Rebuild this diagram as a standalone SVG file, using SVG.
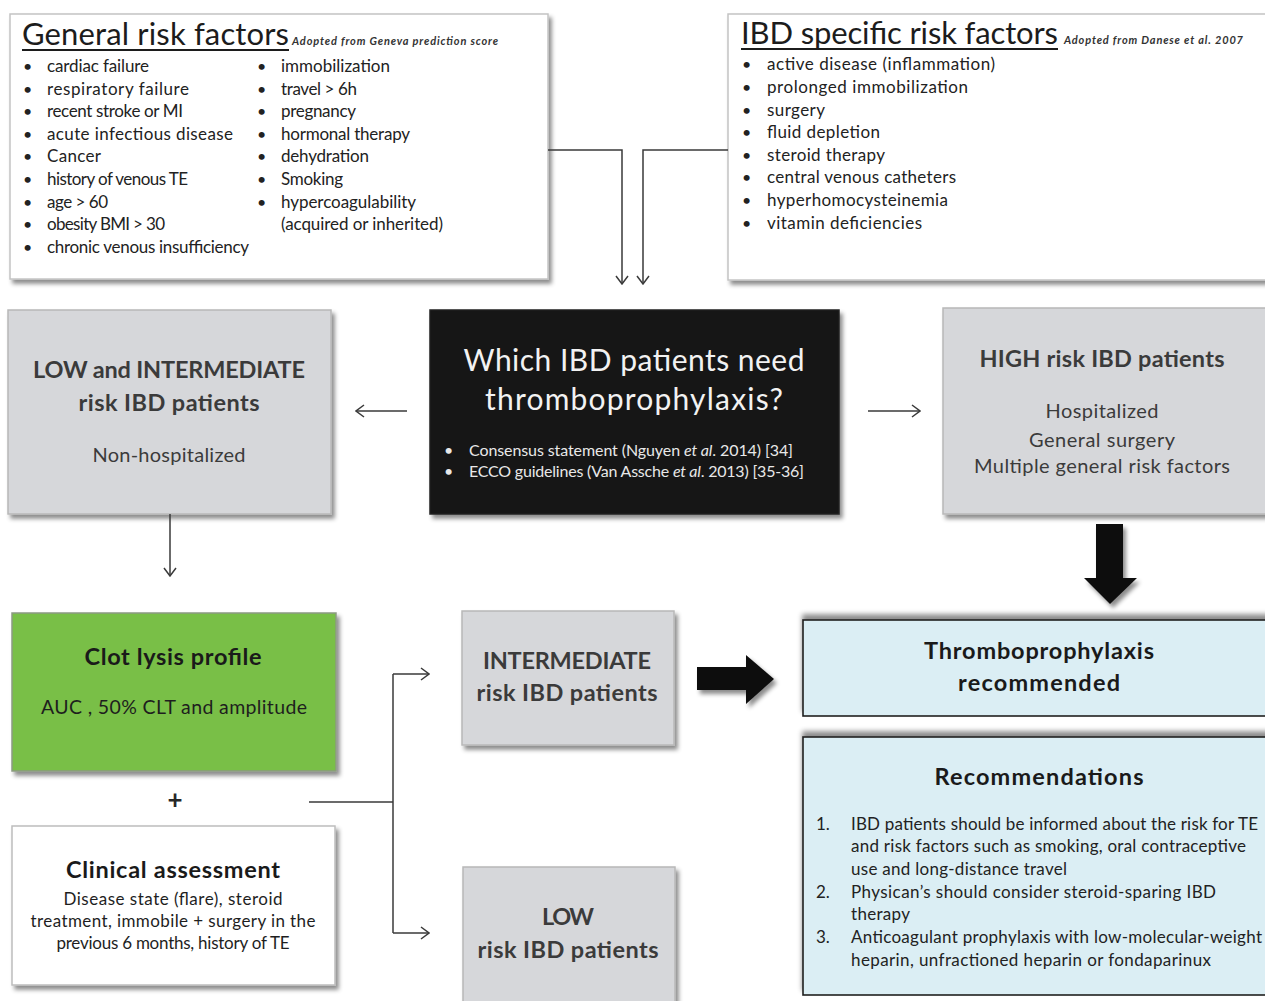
<svg xmlns="http://www.w3.org/2000/svg" width="1265" height="1001" viewBox="0 0 1265 1001">
  <defs>
    <filter id="shadow" x="-10%" y="-10%" width="130%" height="130%">
      <feDropShadow dx="3" dy="4" stdDeviation="2.2" flood-color="#000" flood-opacity="0.45"/>
    </filter>
    <filter id="shadowUp" x="-10%" y="-20%" width="130%" height="140%">
      <feDropShadow dx="0" dy="-5" stdDeviation="2.5" flood-color="#000" flood-opacity="0.45"/>
    </filter>
    <marker id="vhead" viewBox="0 0 10 14" markerWidth="10" markerHeight="14" refX="9" refY="7" orient="auto" markerUnits="userSpaceOnUse">
      <path d="M1,1 L9,7 L1,13" fill="none" stroke="#3a3a3a" stroke-width="1.5"/>
    </marker>
  </defs>
  <style>
    text { font-family: Lato, "Liberation Sans", sans-serif; }
    .box { stroke: #c4c4c4; stroke-width: 1.5; filter: url(#shadow); }
    .white { fill: #ffffff; }
    .gray { fill: #d6d7da; stroke: #b8b8b8; }
    .green { fill: #79bf46; stroke: #8c9a82; }
    .blue { fill: #dbeef4; stroke: #1e1e1e; stroke-width: 1.6; filter: url(#shadowUp); }
    .dark { fill: #151515; stroke: #222; }
    .title { font-size: 31px; fill: #1c1c1c; }
    .note { font-size: 11px; font-style: italic; font-weight: bold; fill: #333; }
    .li { font-size: 17px; fill: #222; }
    .bul { font-size: 16px; fill: #222; }
    .hb { font-size: 23.5px; font-weight: bold; fill: #3b3b3b; text-anchor: middle; }
    .hr { font-size: 20px; fill: #3b3b3b; text-anchor: middle; }
    .kb { font-size: 23.5px; font-weight: bold; fill: #1a1a1a; text-anchor: middle; }
    .kr { font-size: 19.5px; fill: #1e1e1e; text-anchor: middle; }
    .cr { font-size: 17px; fill: #1e1e1e; text-anchor: middle; }
    .rec { font-size: 17px; fill: #222; }
    .inv { font-size: 16px; fill: #e8e8e8; }
    .conn { fill: none; stroke: #3a3a3a; stroke-width: 1.5; }
    .big { fill: #111; filter: url(#shadow); }
  </style>

  <!-- General risk factors -->
  <g id="general-risk-factors">
    <rect class="box white" x="10" y="14" width="538" height="265"/>
    <text class="title" x="22" y="45" textLength="267">General risk factors</text>
    <rect x="22" y="49" width="267" height="2" fill="#1c1c1c"/>
    <text class="note" x="292" y="45" textLength="206">Adopted from Geneva prediction score</text>
    <g class="bul">
      <text x="23" y="72">•</text><text x="23" y="95">•</text><text x="23" y="117">•</text>
      <text x="23" y="140">•</text><text x="23" y="162">•</text><text x="23" y="185">•</text>
      <text x="23" y="208">•</text><text x="23" y="230">•</text><text x="23" y="253">•</text>
      <text x="257" y="72">•</text><text x="257" y="95">•</text><text x="257" y="117">•</text>
      <text x="257" y="140">•</text><text x="257" y="162">•</text><text x="257" y="185">•</text>
      <text x="257" y="208">•</text>
    </g>
    <text class="li" x="47" y="72" textLength="102">cardiac failure</text>
    <text class="li" x="47" y="95" textLength="142">respiratory failure</text>
    <text class="li" x="47" y="117" textLength="136">recent stroke or MI</text>
    <text class="li" x="47" y="140" textLength="186">acute infectious disease</text>
    <text class="li" x="47" y="162" textLength="54">Cancer</text>
    <text class="li" x="47" y="185" textLength="141">history of venous TE</text>
    <text class="li" x="47" y="208" textLength="61">age &gt; 60</text>
    <text class="li" x="47" y="230" textLength="118">obesity BMI &gt; 30</text>
    <text class="li" x="47" y="253" textLength="202">chronic venous insufficiency</text>
    <text class="li" x="281" y="72" textLength="109">immobilization</text>
    <text class="li" x="281" y="95" textLength="76">travel &gt; 6h</text>
    <text class="li" x="281" y="117" textLength="75">pregnancy</text>
    <text class="li" x="281" y="140" textLength="129">hormonal therapy</text>
    <text class="li" x="281" y="162" textLength="88">dehydration</text>
    <text class="li" x="281" y="185" textLength="62">Smoking</text>
    <text class="li" x="281" y="208" textLength="135">hypercoagulability</text>
    <text class="li" x="281" y="230" textLength="162">(acquired or inherited)</text>
  </g>

  <!-- IBD specific risk factors -->
  <g id="ibd-risk-factors">
    <rect class="box white" x="728" y="14" width="545" height="266"/>
    <text class="title" x="741" y="44" textLength="317">IBD specific risk factors</text>
    <rect x="741" y="48" width="317" height="2" fill="#1c1c1c"/>
    <text class="note" x="1064" y="44" textLength="179">Adopted from Danese et al. 2007</text>
    <g class="bul">
      <text x="742" y="70">•</text><text x="742" y="93">•</text><text x="742" y="116">•</text>
      <text x="742" y="138">•</text><text x="742" y="161">•</text><text x="742" y="183">•</text>
      <text x="742" y="206">•</text><text x="742" y="229">•</text>
    </g>
    <text class="li" x="767" y="70" textLength="228">active disease (inflammation)</text>
    <text class="li" x="767" y="93" textLength="201">prolonged immobilization</text>
    <text class="li" x="767" y="116" textLength="58">surgery</text>
    <text class="li" x="767" y="138" textLength="113">fluid depletion</text>
    <text class="li" x="767" y="161" textLength="118">steroid therapy</text>
    <text class="li" x="767" y="183" textLength="189">central venous catheters</text>
    <text class="li" x="767" y="206" textLength="181">hyperhomocysteinemia</text>
    <text class="li" x="767" y="229" textLength="155">vitamin deficiencies</text>
  </g>

  <!-- Central question -->
  <g id="question">
    <rect class="box dark" x="430" y="310" width="409" height="204"/>
    <text x="634" y="371" font-size="30" fill="#f2f2f2" text-anchor="middle" textLength="341">Which IBD patients need</text>
    <text x="634" y="410" font-size="30" fill="#f2f2f2" text-anchor="middle" textLength="298">thromboprophylaxis?</text>
    <text class="inv" x="444" y="456">•</text>
    <text class="inv" x="444" y="477">•</text>
    <text class="inv" x="469" y="456" textLength="324">Consensus statement (Nguyen <tspan font-style="italic">et al</tspan>. 2014) [34]</text>
    <text class="inv" x="469" y="477" textLength="335">ECCO guidelines (Van Assche <tspan font-style="italic">et al</tspan>. 2013) [35-36]</text>
  </g>

  <!-- Low and intermediate risk -->
  <g id="low-intermediate">
    <rect class="box gray" x="8" y="310" width="323" height="204"/>
    <text class="hb" x="169" y="378" textLength="272">LOW and INTERMEDIATE</text>
    <text class="hb" x="169" y="411" textLength="181">risk IBD patients</text>
    <text class="hr" x="169" y="462" textLength="153">Non-hospitalized</text>
  </g>

  <!-- High risk -->
  <g id="high-risk">
    <rect class="box gray" x="943" y="308" width="330" height="206"/>
    <text class="hb" x="1102" y="367" textLength="245">HIGH risk IBD patients</text>
    <text class="hr" x="1102" y="418" textLength="113">Hospitalized</text>
    <text class="hr" x="1102" y="447" textLength="146">General surgery</text>
    <text class="hr" x="1102" y="473" textLength="256">Multiple general risk factors</text>
  </g>

  <!-- Clot lysis profile -->
  <g id="clot-lysis">
    <rect class="box green" x="12" y="613" width="324" height="158"/>
    <text class="kb" x="173" y="665" textLength="177">Clot lysis profile</text>
    <text class="kr" x="174" y="714" textLength="266">AUC , 50% CLT and amplitude</text>
  </g>

  <text x="175" y="809" font-size="26" font-weight="bold" fill="#262626" text-anchor="middle">+</text>

  <!-- Clinical assessment -->
  <g id="clinical-assessment">
    <rect class="box white" x="12" y="826" width="323" height="159" style="stroke:#bdbdbd"/>
    <text class="kb" x="173" y="878" textLength="214">Clinical assessment</text>
    <text class="cr" x="173" y="905" textLength="219">Disease state (flare),  steroid</text>
    <text class="cr" x="173" y="927" textLength="285">treatment,  immobile +  surgery in the</text>
    <text class="cr" x="173" y="949" textLength="233">previous 6 months, history of TE</text>
  </g>

  <!-- Intermediate risk -->
  <g id="intermediate">
    <rect class="box gray" x="462" y="611" width="212" height="134"/>
    <text class="hb" x="567" y="669" textLength="168">INTERMEDIATE</text>
    <text class="hb" x="567" y="701" textLength="181">risk IBD patients</text>
  </g>

  <!-- Low risk -->
  <g id="low">
    <rect class="box gray" x="463" y="867" width="212" height="145"/>
    <text class="hb" x="568" y="925" textLength="52">LOW</text>
    <text class="hb" x="568" y="958" textLength="181">risk IBD patients</text>
  </g>

  <!-- Thromboprophylaxis recommended -->
  <g id="recommended">
    <rect class="blue" x="803" y="620" width="470" height="96"/>
    <text class="kb" x="1039" y="659" textLength="230">Thromboprophylaxis</text>
    <text class="kb" x="1039" y="691" textLength="162">recommended</text>
  </g>

  <!-- Recommendations -->
  <g id="recommendations">
    <rect class="blue" x="803" y="737" width="470" height="258"/>
    <text class="kb" x="1039" y="785" textLength="209">Recommendations</text>
    <text class="rec" x="816" y="830">1.</text>
    <text class="rec" x="816" y="898">2.</text>
    <text class="rec" x="816" y="943">3.</text>
    <text class="rec" x="851" y="830" textLength="407">IBD patients should be informed about the risk for TE</text>
    <text class="rec" x="851" y="852" textLength="395">and risk factors such as smoking, oral contraceptive</text>
    <text class="rec" x="851" y="875" textLength="216">use and long-distance travel</text>
    <text class="rec" x="851" y="898" textLength="365">Physican’s should consider steroid-sparing  IBD</text>
    <text class="rec" x="851" y="920" textLength="59">therapy</text>
    <text class="rec" x="851" y="943" textLength="411">Anticoagulant prophylaxis with low-molecular-weight</text>
    <text class="rec" x="851" y="966" textLength="360">heparin, unfractioned heparin or fondaparinux</text>
  </g>

  <!-- Connectors -->
  <g id="connectors">
    <path class="conn" d="M548,150 H622 V284" marker-end="url(#vhead)"/>
    <path class="conn" d="M728,150 H643 V284" marker-end="url(#vhead)"/>
    <path class="conn" d="M407,411 H356" marker-end="url(#vhead)"/>
    <path class="conn" d="M868,411 H920" marker-end="url(#vhead)"/>
    <path class="conn" d="M170,514 V576" marker-end="url(#vhead)"/>
    <path class="conn" d="M309,802 H393"/>
    <path class="conn" d="M393,674 V933"/>
    <path class="conn" d="M393,674 H429" marker-end="url(#vhead)"/>
    <path class="conn" d="M393,933 H429" marker-end="url(#vhead)"/>
    <polygon class="big" points="1096,524 1123,524 1123,578 1137,578 1110,604 1084,578 1096,578"/>
    <polygon class="big" points="697,667 746,667 746,655 774,679 746,704 746,690 697,690"/>
  </g>
</svg>
